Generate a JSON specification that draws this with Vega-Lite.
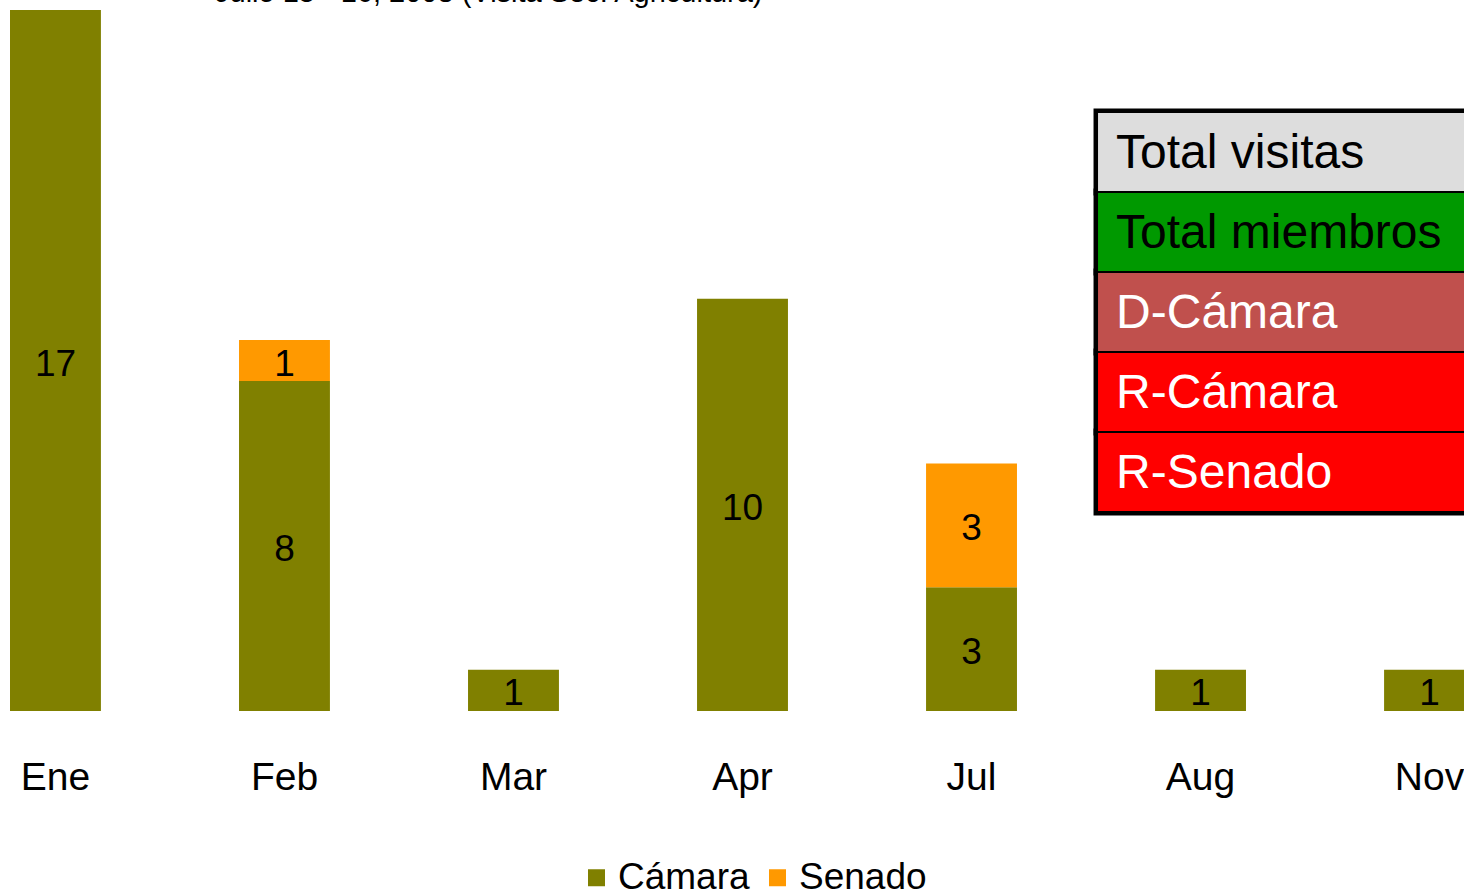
{
  "$schema": "https://vega.github.io/schema/vega-lite/v6.json",
  "autosize": {"type": "none"},
  "padding": {"left": 10, "top": 10, "right": 0, "bottom": 182},
  "width": 1465,
  "height": 701,
  "background": "white",
  "title": {
    "text": "Julio 15 - 16, 2008 (Visita Sec. Agricultura)",
    "anchor": "start",
    "frame": "group",
    "dx": 205,
    "offset": -21,
    "baseline": "alphabetic",
    "fontSize": 29,
    "font": "Liberation Sans",
    "fontWeight": "normal",
    "color": "black"
  },
  "config": {"view": {"stroke": null}, "font": "Liberation Sans"},
  "datasets": {
    "visits": [
      {"month": "Ene", "org": "Cámara", "value": 17},
      {"month": "Feb", "org": "Cámara", "value": 8},
      {"month": "Feb", "org": "Senado", "value": 1},
      {"month": "Mar", "org": "Cámara", "value": 1},
      {"month": "Apr", "org": "Cámara", "value": 10},
      {"month": "Jul", "org": "Cámara", "value": 3},
      {"month": "Jul", "org": "Senado", "value": 3},
      {"month": "Aug", "org": "Cámara", "value": 1},
      {"month": "Nov", "org": "Cámara", "value": 1}
    ],
    "rows": [
      {"label": "Total visitas"},
      {"label": "Total miembros"},
      {"label": "D-Cámara"},
      {"label": "R-Cámara"},
      {"label": "R-Senado"}
    ]
  },
  "resolve": {"scale": {"x": "independent", "y": "independent", "color": "independent"}},
  "layer": [
    {
      "data": {"name": "visits"},
      "encoding": {
        "x": {
          "field": "month",
          "type": "nominal",
          "sort": null,
          "scale": {"domain": ["Ene", "Feb", "Mar", "Apr", "Jul", "Aug", "Nov"], "paddingInner": 0.603, "paddingOuter": 0, "round": false},
          "axis": {"title": null, "domain": false, "ticks": false, "tickSize": 0, "grid": false, "labelFontSize": 39, "labelColor": "black", "labelPadding": 47, "labelAngle": 0, "labelBaseline": "top", "labelFont": "Liberation Sans"}
        },
        "order": {"field": "org", "type": "nominal", "sort": "ascending"}
      },
      "layer": [
        {
          "mark": {"type": "bar"},
          "encoding": {
            "y": {"field": "value", "type": "quantitative", "stack": "zero", "scale": {"domain": [0, 17], "nice": false}, "axis": null},
            "color": {
              "field": "org",
              "type": "nominal",
              "scale": {"domain": ["Cámara", "Senado"], "range": ["#808000", "#FF9900"]},
              "legend": {"orient": "none", "legendX": 568, "legendY": 849, "direction": "horizontal", "title": null, "symbolType": "square", "symbolSize": 289, "symbolStrokeWidth": 0, "symbolOpacity": 1, "labelFontSize": 37, "labelColor": "black", "labelFont": "Liberation Sans", "columnPadding": 9, "labelOffset": 3, "padding": 0}
            }
          }
        },
        {
          "mark": {"type": "text", "fontSize": 37, "color": "black", "baseline": "middle", "dy": 4},
          "encoding": {
            "y": {"field": "value", "type": "quantitative", "stack": "zero", "bandPosition": 0.5},
            "detail": {"field": "org"},
            "text": {"field": "value", "type": "quantitative"}
          }
        }
      ]
    },
    {
      "data": {"name": "rows"},
      "encoding": {
        "y": {
          "field": "label",
          "type": "nominal",
          "sort": null,
          "scale": {"domain": ["Total visitas", "Total miembros", "D-Cámara", "R-Cámara", "R-Senado"], "paddingInner": 0, "paddingOuter": 0, "round": false, "range": [102, 502]},
          "axis": null
        }
      },
      "layer": [
        {
          "mark": {"type": "rect", "fill": "black", "stroke": "black", "strokeWidth": 7},
          "encoding": {
            "x": {"datum": 0.742, "type": "quantitative", "scale": {"domain": [0, 1], "nice": false, "zero": false}, "axis": null},
            "x2": {"datum": 1.05}
          }
        },
        {
          "mark": {"type": "rect", "stroke": "black", "strokeWidth": 2},
          "encoding": {
            "x": {"datum": 0.742, "type": "quantitative"},
            "x2": {"datum": 1.05},
            "fill": {
              "field": "label",
              "type": "nominal",
              "scale": {"domain": ["Total visitas", "Total miembros", "D-Cámara", "R-Cámara", "R-Senado"], "range": ["#DDDDDD", "#009900", "#C0504D", "#FF0000", "#FF0000"]},
              "legend": null
            }
          }
        },
        {
          "mark": {"type": "text", "align": "left", "baseline": "middle", "fontSize": 48, "font": "Liberation Sans", "dy": 2},
          "encoding": {
            "x": {"datum": 0.755, "type": "quantitative"},
            "y": {"field": "label", "type": "nominal", "sort": null, "bandPosition": 0.5},
            "text": {"field": "label"},
            "color": {
              "field": "label",
              "type": "nominal",
              "scale": {"domain": ["Total visitas", "Total miembros", "D-Cámara", "R-Cámara", "R-Senado"], "range": ["black", "black", "white", "white", "white"]},
              "legend": null
            }
          }
        }
      ]
    }
  ]
}
